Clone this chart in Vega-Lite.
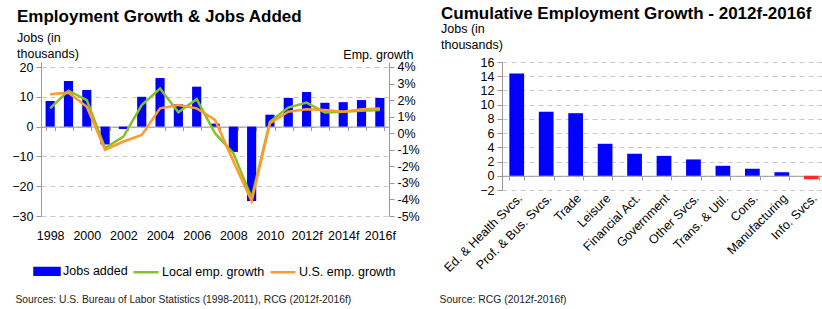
{
  "$schema": "https://vega.github.io/schema/vega-lite/v6.json",
  "padding": {"left": 11, "top": 4, "right": 0, "bottom": 0},
  "background": "white",
  "config": {
    "font": "Liberation Sans",
    "view": {"stroke": null},
    "axis": {"labelColor": "#000", "titleColor": "#000", "titleFontWeight": "normal", "labelFontSize": 12.5, "domainColor": "#999", "tickColor": "#999", "gridColor": "#c8c8c8", "gridDash": [5, 4]},
    "title": {"color": "#000", "subtitleColor": "#000"},
    "legend": {"title": null, "orient": "none", "legendX": -8, "legendY": 195, "direction": "horizontal", "labelFontSize": 12.5, "symbolSize": 625, "symbolType": "stroke", "symbolStrokeWidth": 2.5, "columnPadding": 0, "labelOffset": 2, "labelColor": "#000"}
  },
  "datasets": {
    "jobs": [
      {"year": "1998", "jobs": 8.6}, {"year": "1999", "jobs": 15.3}, {"year": "2000", "jobs": 12.3},
      {"year": "2001", "jobs": -6.0}, {"year": "2002", "jobs": -0.8}, {"year": "2003", "jobs": 10.0},
      {"year": "2004", "jobs": 16.3}, {"year": "2005", "jobs": 7.5}, {"year": "2006", "jobs": 13.4},
      {"year": "2007", "jobs": 1.0}, {"year": "2008", "jobs": -8.5}, {"year": "2009", "jobs": -25.0},
      {"year": "2010", "jobs": 4.0}, {"year": "2011", "jobs": 9.6}, {"year": "2012f", "jobs": 11.6},
      {"year": "2013f", "jobs": 8.0}, {"year": "2014f", "jobs": 8.2}, {"year": "2015f", "jobs": 8.9},
      {"year": "2016f", "jobs": 9.6}
    ],
    "growth": [
      {"year": "1998", "series": "Local emp. growth", "value": 1.5},
      {"year": "1999", "series": "Local emp. growth", "value": 2.57},
      {"year": "2000", "series": "Local emp. growth", "value": 2.0},
      {"year": "2001", "series": "Local emp. growth", "value": -0.9},
      {"year": "2002", "series": "Local emp. growth", "value": -0.2},
      {"year": "2003", "series": "Local emp. growth", "value": 1.7},
      {"year": "2004", "series": "Local emp. growth", "value": 2.7},
      {"year": "2005", "series": "Local emp. growth", "value": 1.26},
      {"year": "2006", "series": "Local emp. growth", "value": 2.06},
      {"year": "2007", "series": "Local emp. growth", "value": 0.0},
      {"year": "2008", "series": "Local emp. growth", "value": -1.2},
      {"year": "2009", "series": "Local emp. growth", "value": -3.9},
      {"year": "2010", "series": "Local emp. growth", "value": 0.7},
      {"year": "2011", "series": "Local emp. growth", "value": 1.55},
      {"year": "2012f", "series": "Local emp. growth", "value": 1.85},
      {"year": "2013f", "series": "Local emp. growth", "value": 1.25},
      {"year": "2014f", "series": "Local emp. growth", "value": 1.3},
      {"year": "2015f", "series": "Local emp. growth", "value": 1.35},
      {"year": "2016f", "series": "Local emp. growth", "value": 1.4},
      {"year": "1998", "series": "U.S. emp. growth", "value": 2.35},
      {"year": "1999", "series": "U.S. emp. growth", "value": 2.45},
      {"year": "2000", "series": "U.S. emp. growth", "value": 1.6},
      {"year": "2001", "series": "U.S. emp. growth", "value": -1.0},
      {"year": "2002", "series": "U.S. emp. growth", "value": -0.5},
      {"year": "2003", "series": "U.S. emp. growth", "value": -0.1},
      {"year": "2004", "series": "U.S. emp. growth", "value": 1.5},
      {"year": "2005", "series": "U.S. emp. growth", "value": 1.7},
      {"year": "2006", "series": "U.S. emp. growth", "value": 1.5},
      {"year": "2007", "series": "U.S. emp. growth", "value": 0.8},
      {"year": "2008", "series": "U.S. emp. growth", "value": -1.7},
      {"year": "2009", "series": "U.S. emp. growth", "value": -4.1},
      {"year": "2010", "series": "U.S. emp. growth", "value": 0.6},
      {"year": "2011", "series": "U.S. emp. growth", "value": 1.3},
      {"year": "2012f", "series": "U.S. emp. growth", "value": 1.45},
      {"year": "2013f", "series": "U.S. emp. growth", "value": 1.4},
      {"year": "2014f", "series": "U.S. emp. growth", "value": 1.3},
      {"year": "2015f", "series": "U.S. emp. growth", "value": 1.45},
      {"year": "2016f", "series": "U.S. emp. growth", "value": 1.5}
    ],
    "sectors": [
      {"sector": "Ed. & Health Svcs.", "value": 14.4},
      {"sector": "Prof. & Bus. Svcs.", "value": 9.0},
      {"sector": "Trade", "value": 8.8},
      {"sector": "Leisure", "value": 4.5},
      {"sector": "Financial Act.", "value": 3.1},
      {"sector": "Government", "value": 2.8},
      {"sector": "Other Svcs.", "value": 2.3},
      {"sector": "Trans. & Util.", "value": 1.4},
      {"sector": "Cons.", "value": 1.0},
      {"sector": "Manufacturing", "value": 0.5},
      {"sector": "Info. Svcs.", "value": -0.5}
    ]
  },
  "bounds": "flush",
  "spacing": 113,
  "hconcat": [
    {
      "width": 348,
      "height": 154,
      "title": {"text": "Employment Growth & Jobs Added", "subtitle": ["Jobs (in", "thousands)"], "anchor": "start", "frame": "group", "dx": -24, "fontSize": 17, "fontWeight": "bold", "subtitleFontSize": 12.5, "subtitleLineHeight": 16, "subtitlePadding": 6, "offset": -13},
      "layer": [
        {
          "data": {"name": "jobs"},
          "mark": {"type": "bar", "color": "#0000FF"},
          "encoding": {
            "x": {"field": "year", "type": "ordinal", "sort": null,
              "scale": {"paddingInner": 0.5, "paddingOuter": 0.25},
              "axis": {"title": "Sources: U.S. Bureau of Labor Statistics (1998-2011), RCG (2012f-2016f)", "titleFontSize": 10.3, "titleAlign": "left", "titleBaseline": "alphabetic", "titleX": -26, "titleY": 176, "titleColor": "#222",
                "offset": -89.4, "labelAngle": 0, "labelPadding": 99, "tickBand": "extent", "tickSize": 4,
                "labelExpr": "indexof(['1999','2001','2003','2005','2007','2009','2011','2013f','2015f'], datum.value) >= 0 ? '' : datum.label"}},
            "y": {"field": "jobs", "type": "quantitative",
              "scale": {"domain": [-30, 21.68], "nice": false, "zero": false},
              "axis": {"orient": "left", "values": [20, 10, 0, -10, -20, -30], "title": null, "grid": true, "tickSize": 5, "labelPadding": 3}},
            "color": {"datum": "Jobs added", "type": "nominal",
              "scale": {"domain": ["Jobs added", "Local emp. growth", "U.S. emp. growth"], "range": ["#0000FF", "#84C225", "#FF9A2B"]},
              "legend": {"title": null,
                "encode": {"symbols": {"update": {
                  "shape": {"signal": "datum.value === 'Jobs added' ? 'M-1,-0.27H1V0.27H-1Z' : 'stroke'"},
                  "fill": {"signal": "datum.value === 'Jobs added' ? '#0000FF' : 'transparent'"},
                  "stroke": {"signal": "datum.value === 'Jobs added' ? 'transparent' : (datum.value === 'Local emp. growth' ? '#84C225' : '#FF9A2B')"},
                  "strokeWidth": {"value": 2.5},
                  "opacity": {"value": 1}
                }}}}}
          }
        },
        {
          "data": {"name": "growth"},
          "mark": {"type": "line", "strokeWidth": 2.5},
          "encoding": {
            "x": {"field": "year", "type": "ordinal", "sort": null},
            "y": {"field": "value", "type": "quantitative",
              "scale": {"domain": [-5, 4.302], "nice": false, "zero": false},
              "axis": {"orient": "right", "values": [4, 3, 2, 1, 0, -1, -2, -3, -4, -5], "labelExpr": "datum.value + '%'", "grid": false, "tickSize": 5, "labelPadding": 3,
                "title": "Emp. growth", "titleAngle": 0, "titleAlign": "right", "titleBaseline": "alphabetic", "titleX": 24, "titleY": -4, "titleFontSize": 12.5}},
            "color": {"field": "series", "type": "nominal", "legend": {"title": null}}
          }
        }
      ],
      "resolve": {"scale": {"y": "independent"}}
    },
    {
      "width": 324,
      "height": 128,
      "title": {"text": "Cumulative Employment Growth - 2012f-2016f", "subtitle": ["Jobs (in", "thousands)"], "anchor": "start", "frame": "group", "dx": -61, "fontSize": 17, "fontWeight": "bold", "subtitleFontSize": 12.5, "subtitleLineHeight": 16, "subtitlePadding": 0, "offset": 4},
      "data": {"name": "sectors"},
      "mark": {"type": "bar"},
      "encoding": {
        "x": {"field": "sector", "type": "nominal", "sort": null,
          "scale": {"paddingInner": 0.5, "paddingOuter": 0.25},
          "axis": {"title": "Source: RCG (2012f-2016f)", "titleFontSize": 10.4, "titleAlign": "left", "titleBaseline": "alphabetic", "titleX": -63, "titleY": 127, "titleColor": "#222",
            "offset": -14.2, "labelAngle": -45, "labelAlign": "right", "labelBaseline": "middle", "labelPadding": 16, "labelOffset": 3, "tickBand": "extent", "tickSize": 4}},
        "y": {"field": "value", "type": "quantitative",
          "scale": {"domain": [-2, 16], "nice": false, "zero": false},
          "axis": {"values": [16, 14, 12, 10, 8, 6, 4, 2, 0, -2], "title": null, "grid": true, "tickSize": 5, "labelPadding": 3}},
        "color": {"condition": {"test": "datum.value < 0", "value": "#FF2A2A"}, "value": "#0000FF"}
      }
    }
  ]
}
